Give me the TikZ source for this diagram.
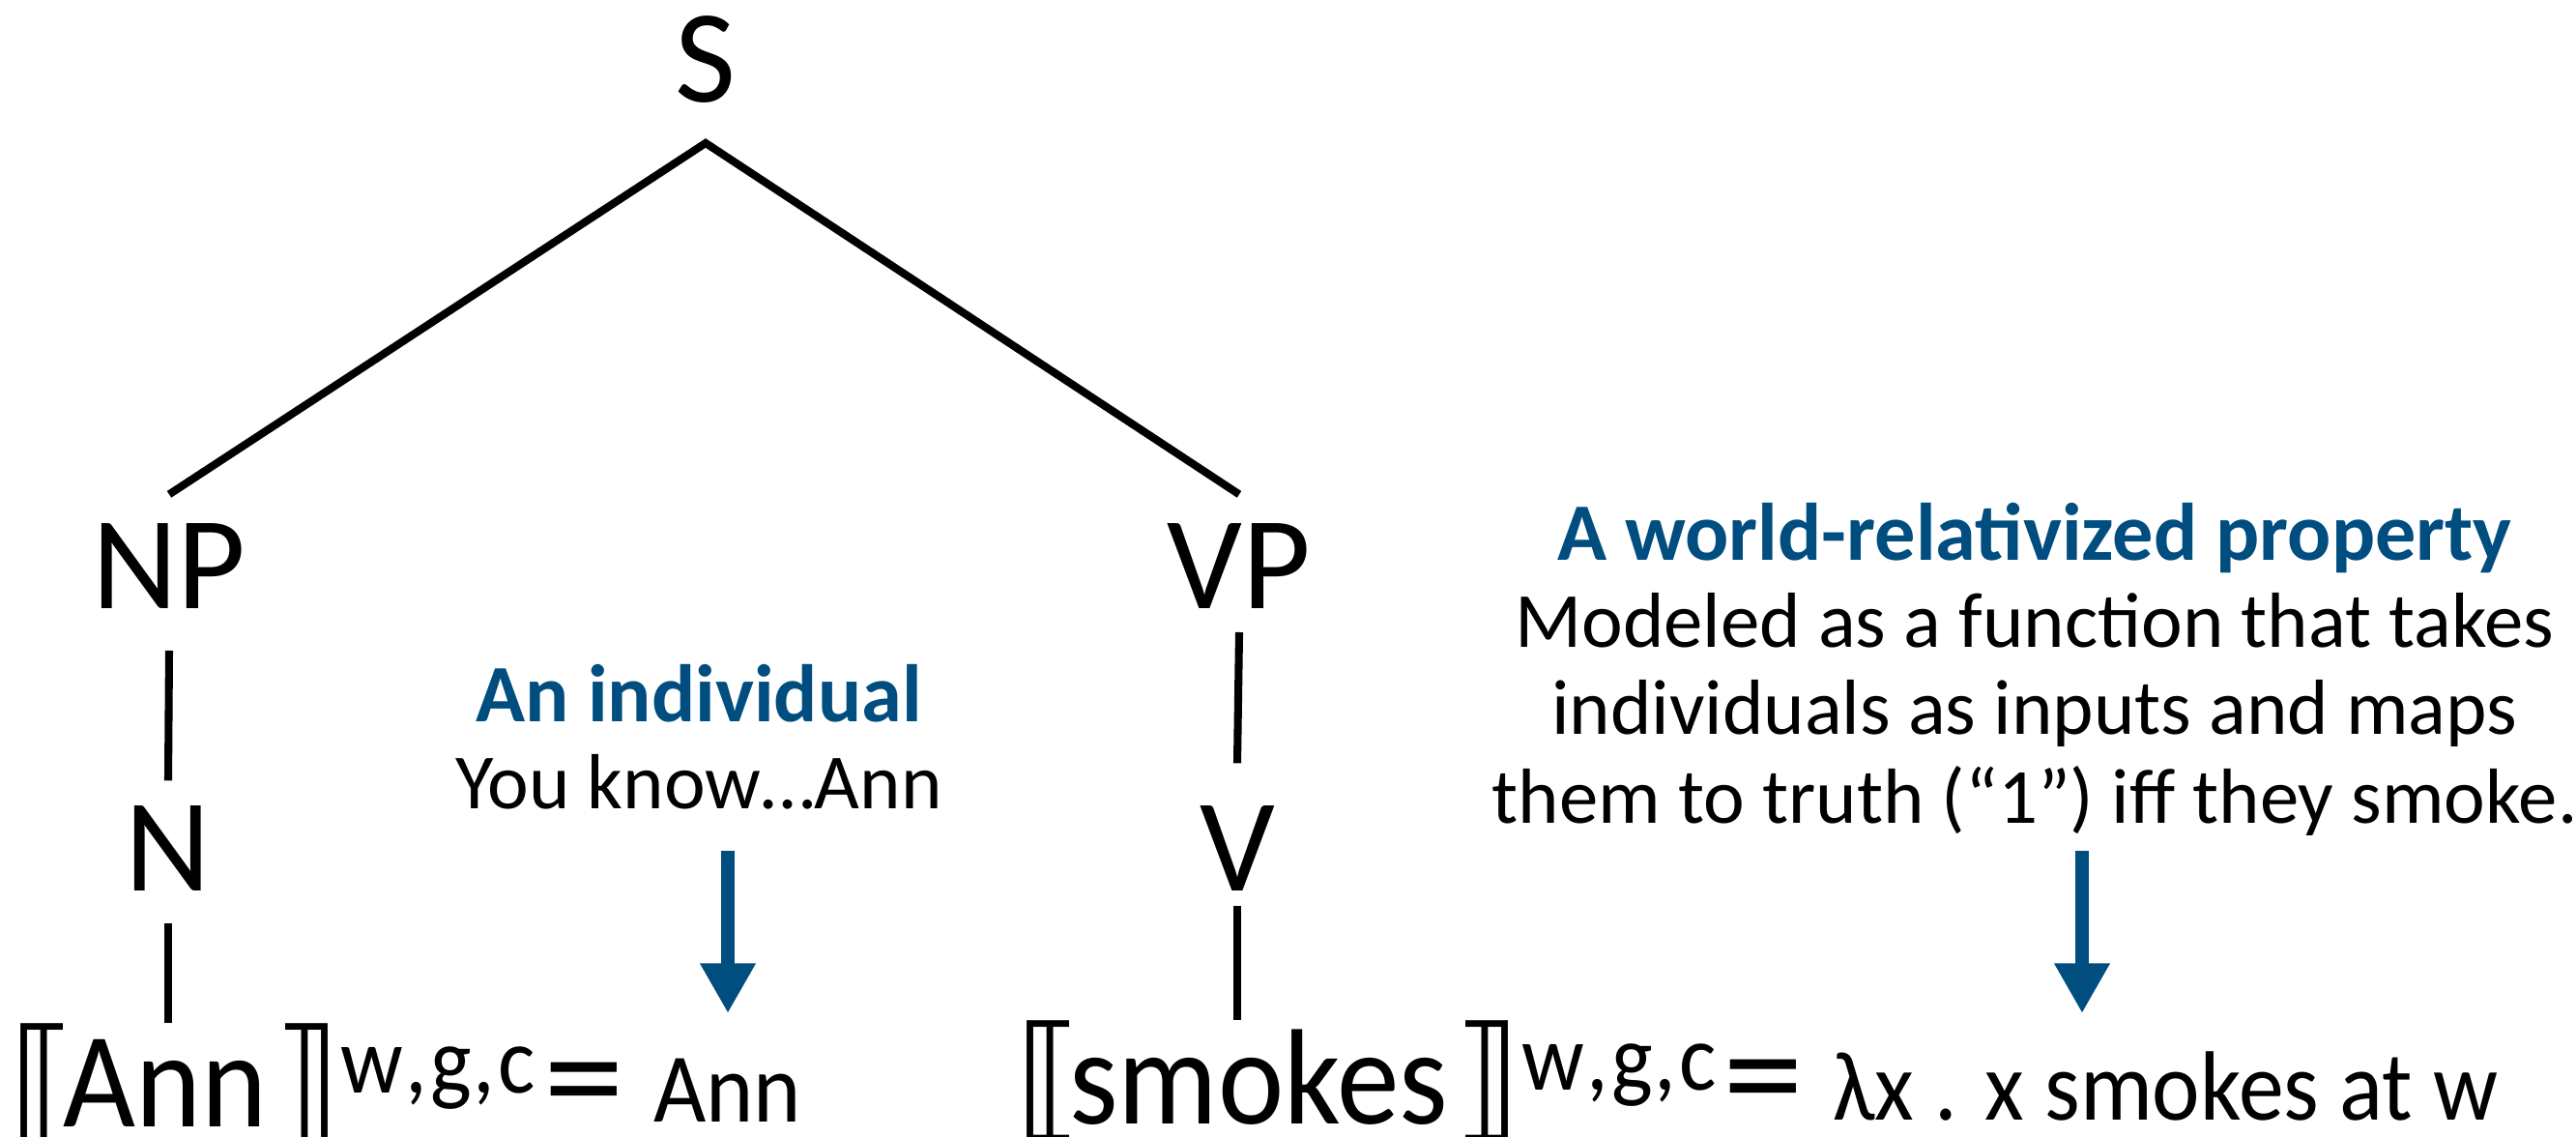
\documentclass[tikz,border=0pt]{standalone}
\usepackage{fontspec}
\setmainfont{Carlito}
\newfontfamily\semfont[FakeStretch=0.92]{Carlito}
\newfontfamily\brkfont{DejaVu Sans}
\usepackage{xcolor}
\usepackage{graphicx}
\usepackage{tikz}
\usetikzlibrary{arrows.meta}
\definecolor{headblue}{RGB}{0,77,128}
\newcommand{\denot}[1]{{\brkfont ⟦}\kern-4pt#1\kern2pt{\brkfont ⟧}}
\newcommand{\wgc}{\raisebox{10pt}{\fontsize{28}{28}\semfont w\kern0.5pt,\kern1pt g\kern0.5pt,\kern1pt c}}
\newcommand{\bigsem}{\fontsize{40}{40}\semfont}
\newcommand{\rhsfont}{\fontsize{29}{29}\selectfont}
\newcommand{\eqsign}{\scalebox{1.3}[1.1]{=}}

\begin{document}
\begin{tikzpicture}[
  cat/.style={inner sep=0pt,anchor=base,font=\fontsize{39}{39}\selectfont},
  branch/.style={line width=2.3pt},
  head/.style={inner sep=0pt,anchor=base,text=headblue,font=\fontsize{24}{24}\selectfont\bfseries},
  gloss/.style={inner sep=0pt,anchor=base,font=\fontsize{23}{23}\selectfont},
  sem/.style={inner sep=0pt,anchor=base west},
  pointer/.style={headblue,line width=3.8pt,-{Triangle[width=15.4pt,length=14.7pt]}}]
\useasboundingbox (0,0) rectangle (26.65,11.76);
%tree
\node[cat](S) at (7.30,10.70){S};
\node[cat](NP) at (1.75,5.46){NP};
\node[cat](VP) at (12.82,5.46){VP};
\node[cat](N) at (1.74,2.54){N};
\node[cat](V) at (12.80,2.54){V};
%denotations
\node[sem](annsem) at (0.09,0.10){\bigsem\denot{Ann}\wgc};
\node[sem](annval) at (5.62,0.10){\bigsem\eqsign\rhsfont\hspace{0.3cm}\raisebox{1.7pt}{Ann}};
\node[sem](smokesem) at (10.50,0.13){\bigsem\denot{smokes}\wgc};
\node[sem](smokesval) at (17.82,0.13){\bigsem\eqsign\rhsfont\hspace{0.3cm}\raisebox{1.4pt}{λx . x smokes at w}};
\coordinate(apex) at ([yshift=-0.42cm]S.base);
\draw[branch]([yshift=0.3cm]NP.north)--(apex)--([yshift=0.3cm]VP.north);
\draw[branch]([yshift=-0.43cm]NP.base)--([yshift=0.26cm]N.north);
\draw[branch]([yshift=-0.24cm]VP.base)--([yshift=0.44cm]V.north);
\draw[branch]([yshift=-0.33cm]N.base)--(N.base |- annsem.north);
\draw[branch]([yshift=-0.15cm]V.base)--(V.base |- smokesem.north);
%glosses
\node[head](indivhead) at (7.23,4.29){An individual};
\node[gloss](indivgloss) at (7.23,3.39){You know…Ann};
\node[head](prophead) at (21.05,5.96){A world-relativized property};
\node[gloss](propline1) at (21.05,5.06){Modeled as a function that takes};
\node[gloss](propline2) at (21.05,4.16){individuals as inputs and maps};
\node[gloss](propline3) at (21.05,3.24){them to truth (“1”) iff they smoke.};
\coordinate(indivtop) at (7.53,2.96);
\coordinate(indivtip) at (7.53,1.28);
\coordinate(proptop) at (21.54,2.96);
\coordinate(proptip) at (21.54,1.28);
\draw[pointer](indivtop)--(indivtip);
\draw[pointer](proptop)--(proptip);
\end{tikzpicture}
\end{document}
